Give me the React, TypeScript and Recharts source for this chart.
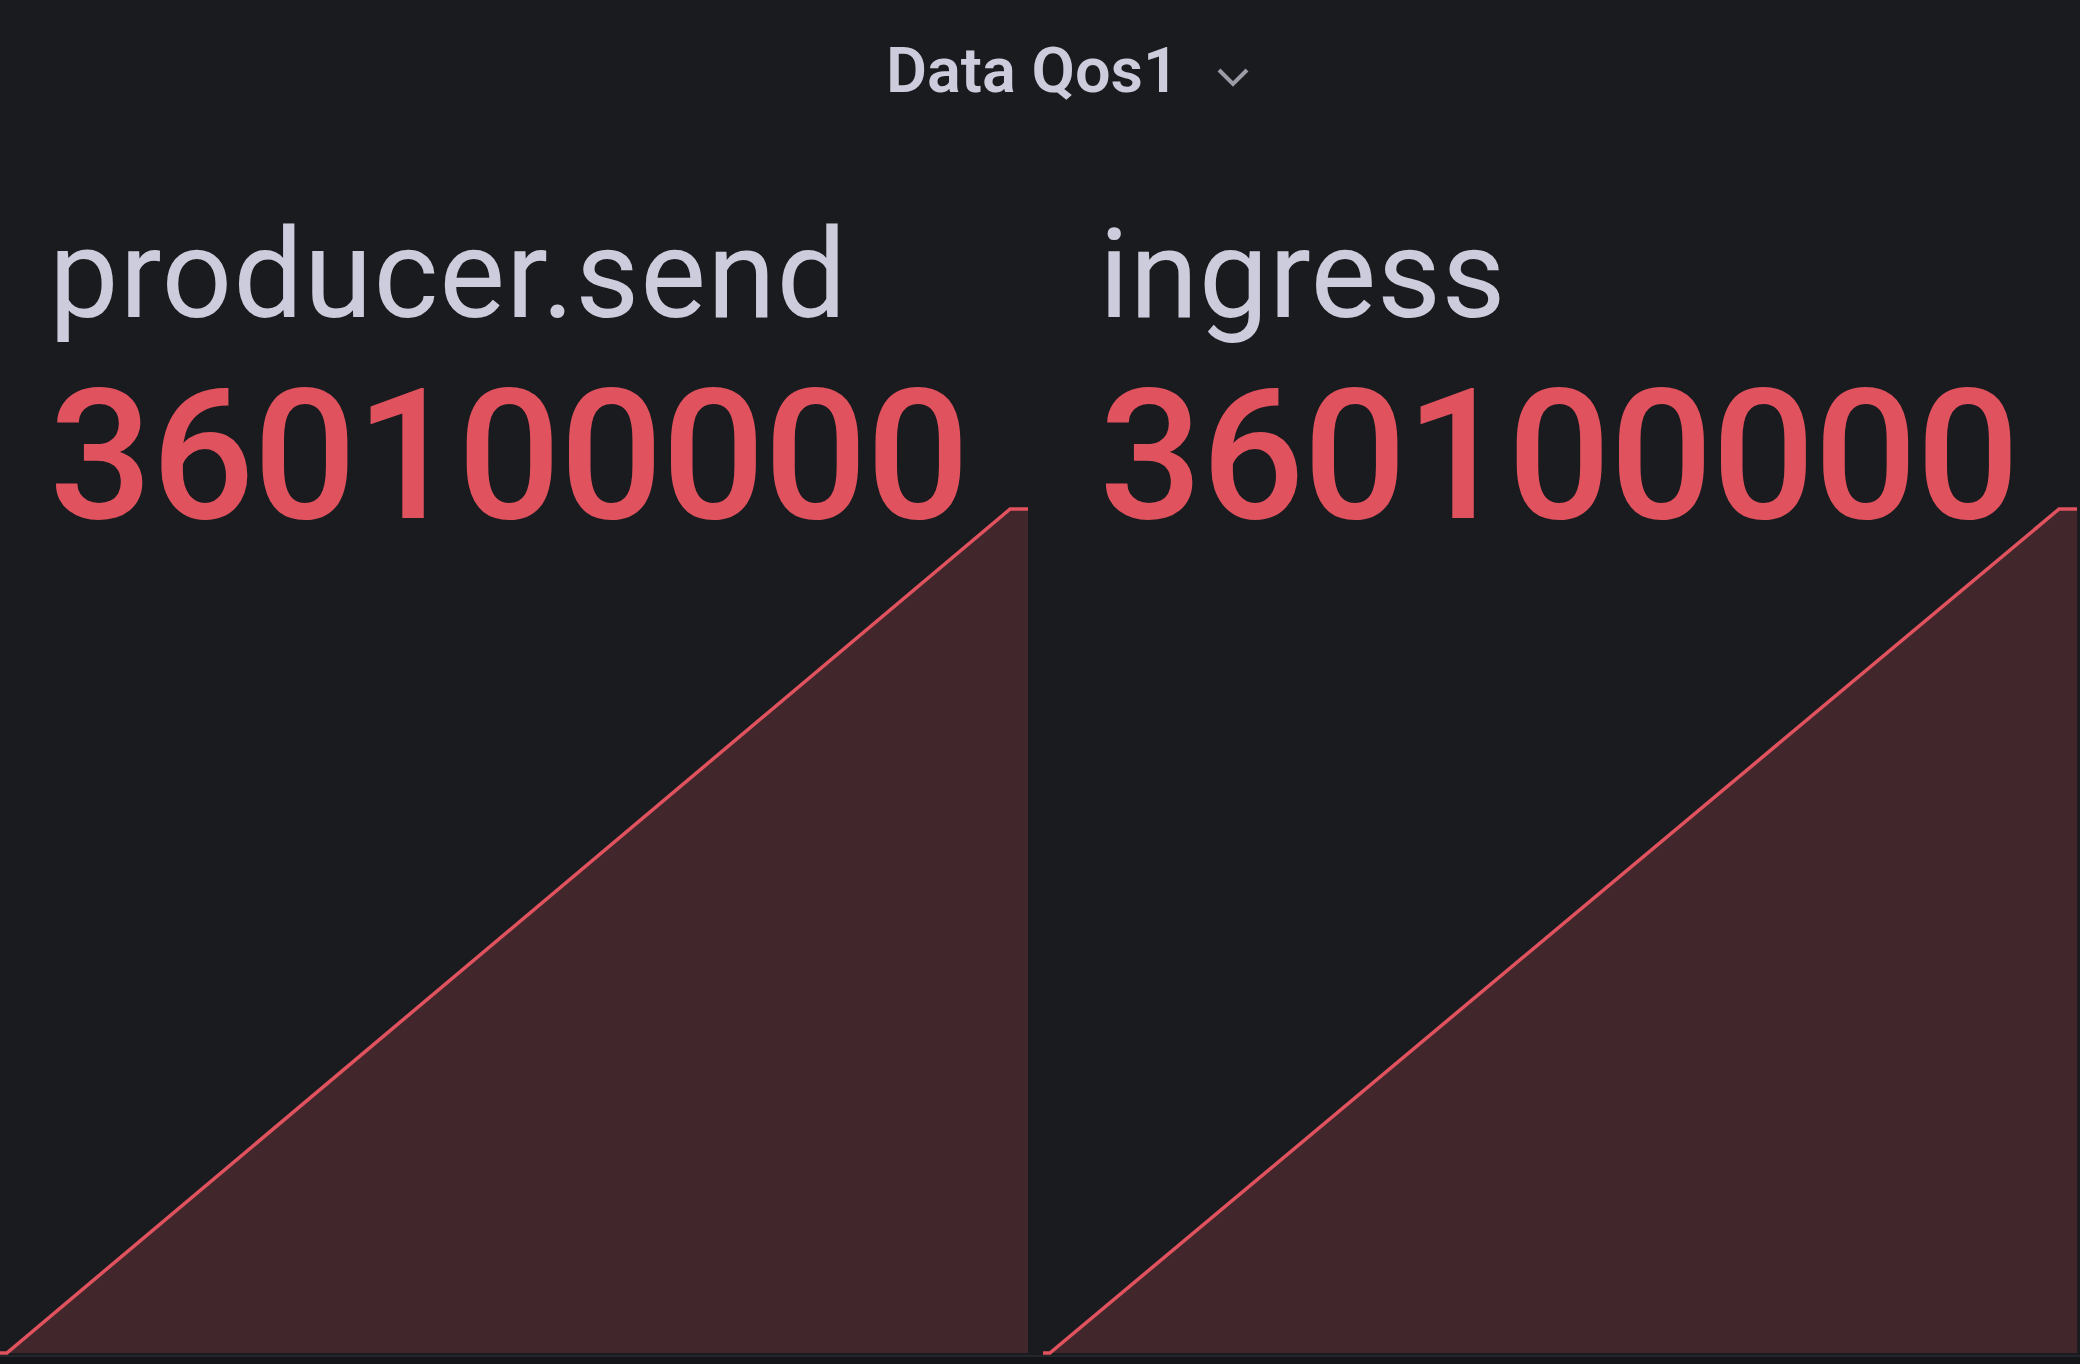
import React from "react";
import { AreaChart, Area, XAxis, YAxis } from "recharts";

// sample times (seconds into the window) and cumulative message counts
const sampleTimes = [0, 10, 1474, 1500];
const producerSend = [0, 0, 360100000, 360100000];
const ingress = [0, 0, 360100000, 360100000];

const panelTitle = "Data Qos1";
const statNames = ["producer.send", "ingress"];
const statValues = ["360100000", "360100000"];

const BG = "#1a1b1f";
const RED = "#e0525e";
const RED_FILL = "#41272c";
const TEXT = "#ccccdc";
const FONT = "Roboto, 'Noto Sans', sans-serif";

function toRows(values: number[]) {
    return sampleTimes.map((t, i) => ({ t, v: values[i] }));
}

function Sparkline({ values, left, width }: { values: number[]; left: number; width: number }) {
    const maxV = Math.max(...producerSend, ...ingress);
    return (
        <div style={{ position: "absolute", left, top: 507 }}>
            <AreaChart
                width={width}
                height={848}
                data={toRows(values)}
                margin={{ top: 2, right: 0, bottom: 2, left: 0 }}
            >
                <XAxis dataKey="t" type="number" domain={[0, 1500]} hide />
                <YAxis type="number" domain={[0, maxV]} hide />
                <Area
                    type="linear"
                    dataKey="v"
                    stroke={RED}
                    strokeWidth={3.5}
                    fill={RED_FILL}
                    fillOpacity={1}
                    dot={false}
                    activeDot={false}
                    isAnimationActive={false}
                />
            </AreaChart>
        </div>
    );
}

export default function App() {
    const textLefts = [49, 1099];
    const nameSpacing = [1, 0.6];
    return (
        <div
            style={{
                position: "fixed",
                left: 0,
                top: 0,
                width: 2080,
                height: 1364,
                background: BG,
                overflow: "hidden",
                fontFamily: FONT,
            }}
        >
            {/* panel header */}
            <div
                style={{
                    position: "absolute",
                    left: 886,
                    top: 39,
                    fontSize: 63,
                    lineHeight: 1,
                    fontWeight: 600,
                    color: TEXT,
                    whiteSpace: "nowrap",
                }}
            >
                {panelTitle}
            </div>
            <svg style={{ position: "absolute", left: 1213, top: 62 }} width={40} height={28}>
                <polyline points="6,8 20,22 34,8" fill="none" stroke="#9b9ca6" strokeWidth={4} />
            </svg>

            <Sparkline values={producerSend} left={0} width={1028} />
            <Sparkline values={ingress} left={1043} width={1034} />

            {statNames.map((name, i) => (
                <React.Fragment key={name}>
                    <div
                        style={{
                            position: "absolute",
                            left: textLefts[i],
                            top: 213,
                            fontSize: 124,
                            lineHeight: 1,
                            fontWeight: 400,
                            letterSpacing: nameSpacing[i],
                            color: TEXT,
                            whiteSpace: "nowrap",
                        }}
                    >
                        {name}
                    </div>
                    <div
                        style={{
                            position: "absolute",
                            left: textLefts[i],
                            top: 365,
                            fontSize: 182,
                            lineHeight: 1,
                            fontWeight: 500,
                            letterSpacing: -1.3,
                            color: RED,
                            whiteSpace: "nowrap",
                        }}
                    >
                        {statValues[i]}
                    </div>
                </React.Fragment>
            ))}

            {/* bottom edge of the panel */}
            <div
                style={{
                    position: "absolute",
                    left: 0,
                    top: 1355,
                    width: 2080,
                    height: 9,
                    background: "#141519",
                    borderTop: "2px solid #25262b",
                    boxSizing: "border-box",
                }}
            />
        </div>
    );
}
